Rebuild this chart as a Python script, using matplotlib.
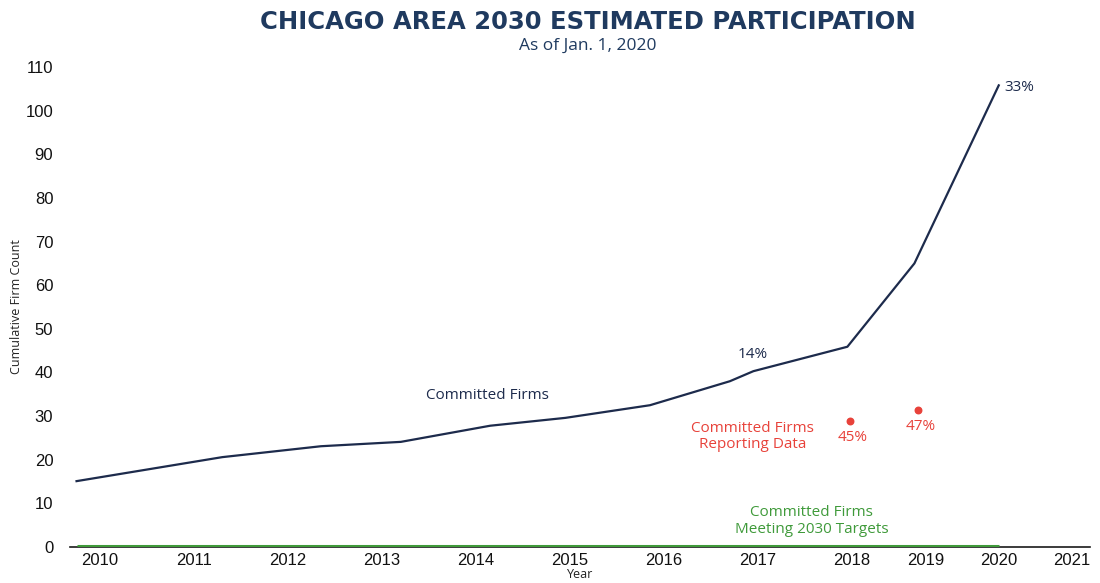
import numpy as np
import matplotlib
matplotlib.use("Agg")
import matplotlib.pyplot as plt

# values
years = [2009.75, 2011.3, 2012.35, 2013.2, 2014.15, 2014.95, 2015.85, 2016.7, 2016.95, 2017.95, 2018.85, 2020.0]
committed = [15.1, 20.6, 23.1, 24.1, 27.8, 29.6, 32.5, 38.0, 40.3, 45.9, 65.0, 105.8]
meeting_years = [2009.75, 2020.0]
meeting = [0.2, 0.2]
reporting_years = [2017.98, 2018.9]
reporting = [28.9, 31.4]
reporting_pct = ["45%", "47%"]
tick_years = list(range(2010, 2022))

NAVY = "#1d2b4c"
RED = "#e8423a"
GREEN = "#3f9a3a"
TEXT_FONT = ["Open Sans", "DejaVu Sans"]


# the x axis in the source gets tighter after 2018
def fwd(x):
    return np.interp(x, [2000, 2018, 2030], [2000, 2018, 2018 + 12 * 0.78])


def inv(x):
    return np.interp(x, [2000, 2018, 2018 + 12 * 0.78], [2000, 2018, 2030])


fig = plt.figure(figsize=(11, 5.83), dpi=100)
ax = fig.add_axes([0.0636, 0.0617, 0.927, 0.8233])
ax.set_xscale("function", functions=(fwd, inv))

ax.plot(meeting_years, meeting, color=GREEN, lw=2.2, solid_capstyle="butt", zorder=3)
ax.plot(years, committed, color=NAVY, lw=1.6, zorder=4)
ax.scatter(reporting_years, reporting, color=RED, s=22, zorder=5)

ax.set_xlim(2009.68, 2021.24)
ax.set_ylim(0, 110)
ax.set_xticks(tick_years)
ax.set_xticklabels([str(y) for y in tick_years])
ax.set_yticks(range(0, 111, 10))
ax.tick_params(axis="both", length=0, labelsize=12, labelcolor="#111111")
ax.tick_params(axis="y", pad=12)
ax.tick_params(axis="x", pad=4)
for lab in ax.get_xticklabels() + ax.get_yticklabels():
    lab.set_family(["Liberation Sans", "DejaVu Sans"])

for s in ["left", "right", "top"]:
    ax.spines[s].set_visible(False)
ax.spines["bottom"].set_color("#1a1a1a")
ax.spines["bottom"].set_linewidth(1.2)

ax.set_xlabel("Year", fontsize=9, family=TEXT_FONT, labelpad=0, color="#222222")
ax.set_ylabel("Cumulative Firm Count", fontsize=9, family=TEXT_FONT, color="#222222")
ax.yaxis.set_label_coords(-0.046, 0.5)

# labels on the chart
ax.text(2014.12, 34.8, "Committed Firms", color=NAVY, fontsize=11, family=TEXT_FONT,
        ha="center", va="center")
ax.text(2016.94, 44.2, "14%", color=NAVY, fontsize=11, family=TEXT_FONT, ha="center", va="center")
ax.text(2020.08, 105.2, "33%", color=NAVY, fontsize=11, family=TEXT_FONT, ha="left", va="center")
ax.text(2016.94, 25.3, "Committed Firms\nReporting Data", color=RED, fontsize=11,
        family=TEXT_FONT, ha="center", va="center", linespacing=1.15)
for x, v, p in zip(reporting_years, reporting, reporting_pct):
    ax.text(x + 0.03, v - 3.8, p, color=RED, fontsize=11, family=TEXT_FONT,
            ha="center", va="center")
ax.text(2017.57, 6.0, "Committed Firms\nMeeting 2030 Targets", color=GREEN, fontsize=11,
        family=TEXT_FONT, ha="center", va="center", linespacing=1.15)

fig.text(0.534, 0.963, "CHICAGO AREA 2030 ESTIMATED PARTICIPATION", color="#1f3a5f",
         fontsize=17.5, fontweight="bold", family=["DejaVu Sans"], ha="center", va="center")
fig.text(0.534, 0.922, "As of Jan. 1, 2020", color="#1f3a5f", fontsize=12.5,
         family=TEXT_FONT, ha="center", va="center")

fig.savefig("out.png", dpi=100)
